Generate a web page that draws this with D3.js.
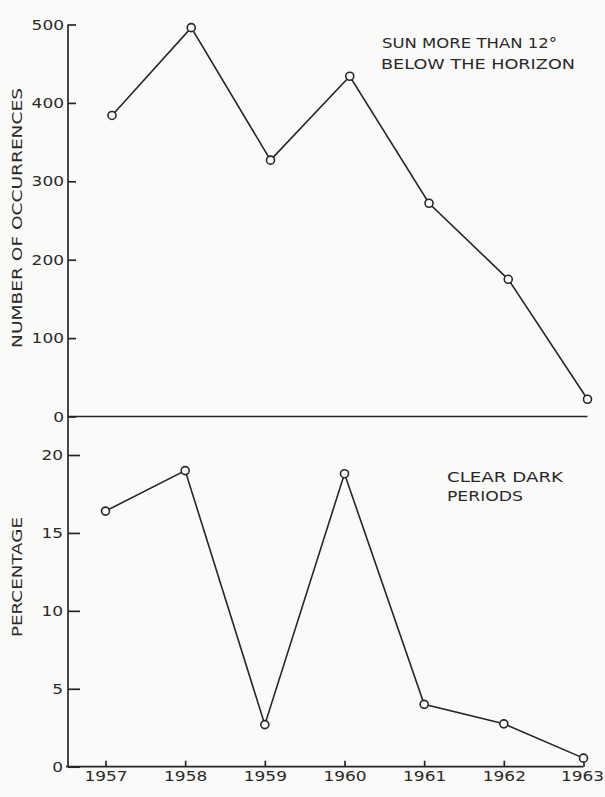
<!DOCTYPE html>
<html>
<head>
<meta charset="utf-8">
<script src="https://cdn.jsdelivr.net/npm/d3@7"></script>
<style>
  html, body { margin: 0; padding: 0; background: #fafaf8; }
  svg { display: block; }
  text { font-family: "DejaVu Sans", sans-serif; fill: #2a2a2a; }
</style>
</head>
<body>
<svg id="chart" width="605" height="797"></svg>
<script>
// Years observed
const years = [1957, 1958, 1959, 1960, 1961, 1962, 1963];
// Upper panel: number of occurrences with the sun more than 12° below the horizon
const occurrences = [384, 496, 327, 434, 272, 175, 22];
// Lower panel: clear dark periods, percentage
const clearDarkPct = [16.4, 19.0, 2.7, 18.8, 4.0, 2.75, 0.55];
// Tick values
const occTicks = [0, 100, 200, 300, 400, 500];
const pctTicks = [0, 5, 10, 15, 20];

const ink = "#262626";
const svg = d3.select("#chart");

const axisX = 68;
const digitWidth = 10.8; // lettering is wide: stretch each numeral to this advance

// Scales
const yTop = d3.scaleLinear().domain([0, 500]).range([416.5, 24.5]);
const xTop = d3.scaleLinear().domain([1957, 1963]).range([112, 587.5]);
const yBot = d3.scaleLinear().domain([0, 20]).range([766.7, 455]);
const xBot = d3.scaleLinear().domain([1957, 1963]).range([105.5, 583.5]);

// Shared vertical axis line through both panels
svg.append("line")
  .attr("x1", axisX).attr("x2", axisX)
  .attr("y1", yTop(500)).attr("y2", yBot(0))
  .attr("stroke", ink).attr("stroke-width", 1.7);

// Upper y axis
const gTop = svg.append("g")
  .attr("transform", `translate(${axisX},0)`)
  .call(d3.axisLeft(yTop).tickValues(occTicks).tickSizeInner(-8).tickSizeOuter(0).tickPadding(4));
// Lower y axis
const gBot = svg.append("g")
  .attr("transform", `translate(${axisX},0)`)
  .call(d3.axisLeft(yBot).tickValues(pctTicks).tickSizeInner(-12).tickSizeOuter(0).tickPadding(5));
// Lower x axis
const gX = svg.append("g")
  .attr("transform", `translate(0,${yBot(0)})`)
  .call(d3.axisBottom(xBot).tickValues(years).tickFormat(d3.format("d"))
    .tickSizeInner(-6).tickSizeOuter(0).tickPadding(4));

[gTop, gBot, gX].forEach(g => {
  g.select(".domain").remove();
  g.selectAll(".tick line").attr("stroke", ink).attr("stroke-width", 1.7);
  g.selectAll(".tick text")
    .attr("fill", "#2a2a2a")
    .style("font-size", "14.5px")
    .style("font-family", "'DejaVu Sans', sans-serif")
    .attr("textLength", function() { return this.textContent.length * digitWidth; })
    .attr("lengthAdjust", "spacingAndGlyphs");
});
// keep the last year label inside the frame
gX.selectAll(".tick text").filter(d => d === 1963).attr("dx", -1.5);

// Baselines
svg.append("line")
  .attr("x1", axisX).attr("x2", xTop(1963))
  .attr("y1", yTop(0)).attr("y2", yTop(0))
  .attr("stroke", ink).attr("stroke-width", 1.7);
svg.append("line")
  .attr("x1", axisX - 2).attr("x2", xBot(1963))
  .attr("y1", yBot(0)).attr("y2", yBot(0))
  .attr("stroke", ink).attr("stroke-width", 1.7);

// Series drawing
function series(values, x, y) {
  const pts = years.map((yr, i) => [x(yr), y(values[i])]);
  svg.append("path")
    .attr("d", d3.line()(pts))
    .attr("fill", "none").attr("stroke", ink).attr("stroke-width", 1.6);
  svg.append("g").selectAll("circle").data(pts).join("circle")
    .attr("cx", d => d[0]).attr("cy", d => d[1]).attr("r", 4)
    .attr("fill", "#fafaf8").attr("stroke", ink).attr("stroke-width", 1.6);
}
series(occurrences, xTop, yTop);
series(clearDarkPct, xBot, yBot);

// Axis titles
function vTitle(txt, cx, cy, len) {
  svg.append("text")
    .attr("transform", `translate(${cx},${cy}) rotate(-90)`)
    .attr("text-anchor", "middle").attr("dy", "0.35em")
    .attr("textLength", len).attr("lengthAdjust", "spacingAndGlyphs")
    .style("font-size", "14px")
    .text(txt);
}
vTitle("NUMBER OF OCCURRENCES", 17, 218, 260);
vTitle("PERCENTAGE", 17, 577, 120);

// Panel annotations
function note(txt, x, y, len) {
  svg.append("text")
    .attr("x", x).attr("y", y)
    .attr("textLength", len).attr("lengthAdjust", "spacingAndGlyphs")
    .style("font-size", "14px")
    .text(txt);
}
note("SUN MORE THAN 12°", 382, 48, 175);
note("BELOW THE HORIZON", 381, 68.5, 194);
note("CLEAR DARK", 447, 482, 116);
note("PERIODS", 447, 500.5, 76);
</script>
</body>
</html>
